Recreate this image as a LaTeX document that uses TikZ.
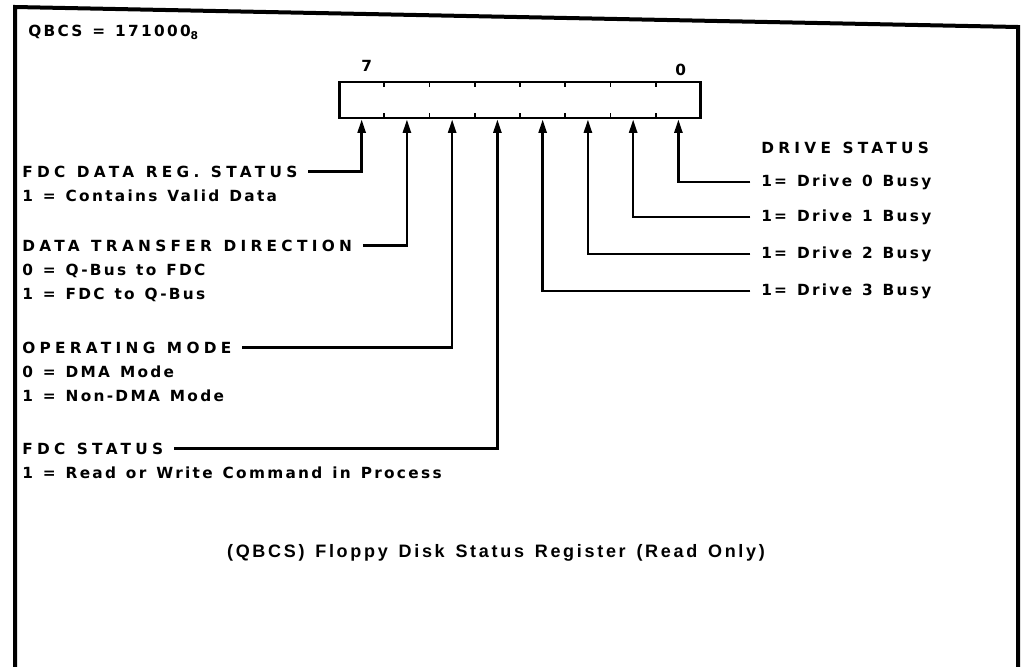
\documentclass[tikz,border=0pt]{standalone}
\usepackage{fontspec}
\setmainfont{DejaVu Sans}
\newfontfamily\lblfont[LetterSpace=28,WordSpace=1.2]{DejaVu Sans}
\newfontfamily\valfont[LetterSpace=15,WordSpace=1.3]{DejaVu Sans}
\newfontfamily\capfont[LetterSpace=15,WordSpace=1.4]{Liberation Sans}
\usetikzlibrary{arrows.meta,positioning}
\tikzset{
    %Define standard arrow tip
    >={Triangle[length=10pt,width=6pt]},
    %Define style for the register box
    register/.style={
           rectangle,
           draw=black, line width=2pt,
           minimum width=271pt,
           minimum height=27pt,
           },
    %Define style for field names
    field/.style={
           inner sep=0pt,
           anchor=base west,
           font=\lblfont\bfseries\fontsize{11.5}{13}\selectfont,
           },
    value/.style={
           field,
           font=\valfont\bfseries\fontsize{11.5}{13}\selectfont,
           },
    next/.style={
           below=18pt of #1.base west,
           anchor=base west,
           },
    % Define arrow style
    pil/.style={
           ->,
           line width=1.8pt,
           },
    frame/.style={
           line width=3pt,
           }
}
\begin{document}
\begin{tikzpicture}[x=0.75pt,y=-0.75pt]
\useasboundingbox (0,0) rectangle (1021,667);
\draw[frame] (15,667) -- (15,7) -- (1018,27) -- (1018,667);
\node[value] (addr) at (28,37) {QBCS = 171000$_{\mathbf 8}$};
% register with its bits
\node[register] (reg) at (520,100) {};
\foreach \i in {1,...,7}{
  \draw[line width=1.4pt] ({339+45.25*\i},82) -- ++(0,5);
  \draw[line width=1.4pt] ({339+45.25*\i},118) -- ++(0,-5);
}
\foreach \i in {0,...,7}
  \coordinate (b\i) at ({678.4-45.25*\i},119.5);
\node[field] (hi) at (361,72) {7};
\node[field] (lo) at (675,75) {0};
% left fields
\node[field] (dreg) at (22,177) {FDC DATA REG. STATUS};
\node[value, next=dreg] (dreg1) {1 = Contains Valid Data};
\node[field] (dir) at (22,251) {DATA TRANSFER DIRECTION};
\node[value, next=dir] (dir0) {0 = Q-Bus to FDC};
\node[value, next=dir0] (dir1) {1 = FDC to Q-Bus};
\node[field] (mode) at (22,353) {OPERATING MODE};
\node[value, next=mode] (mode0) {0 = DMA Mode};
\node[value, next=mode0] (mode1) {1 = Non-DMA Mode};
\node[field] (fdc) at (22,454) {FDC STATUS};
\node[value, next=fdc] (fdc1) {1 = Read or Write Command in Process};
% right fields
\node[field] (drv) at (761,153) {DRIVE STATUS};
\node[value] (d0) at (761,186) {1= Drive 0 Busy};
\node[value] (d1) at (761,221) {1= Drive 1 Busy};
\node[value] (d2) at (761,258) {1= Drive 2 Busy};
\node[value] (d3) at (761,295) {1= Drive 3 Busy};
\node[font=\capfont\bfseries\fontsize{13.5}{15}\selectfont] (cap) at (496,553)
  {(QBCS) Floppy Disk Status Register (Read Only)};
\draw[pil] ([xshift=-8pt]d0.west) -| (b0);
\draw[pil] ([xshift=-8pt]d1.west) -| (b1);
\draw[pil] ([xshift=-8pt]d2.west) -| (b2);
\draw[pil] ([xshift=-8pt]d3.west) -| (b3);
\draw[pil] ([xshift=8pt]fdc.east) -| (b4);
\draw[pil] ([xshift=8pt]mode.east) -| (b5);
\draw[pil] ([xshift=8pt]dir.east) -| (b6);
\draw[pil] ([xshift=8pt]dreg.east) -| (b7);
\end{tikzpicture}
\end{document}
